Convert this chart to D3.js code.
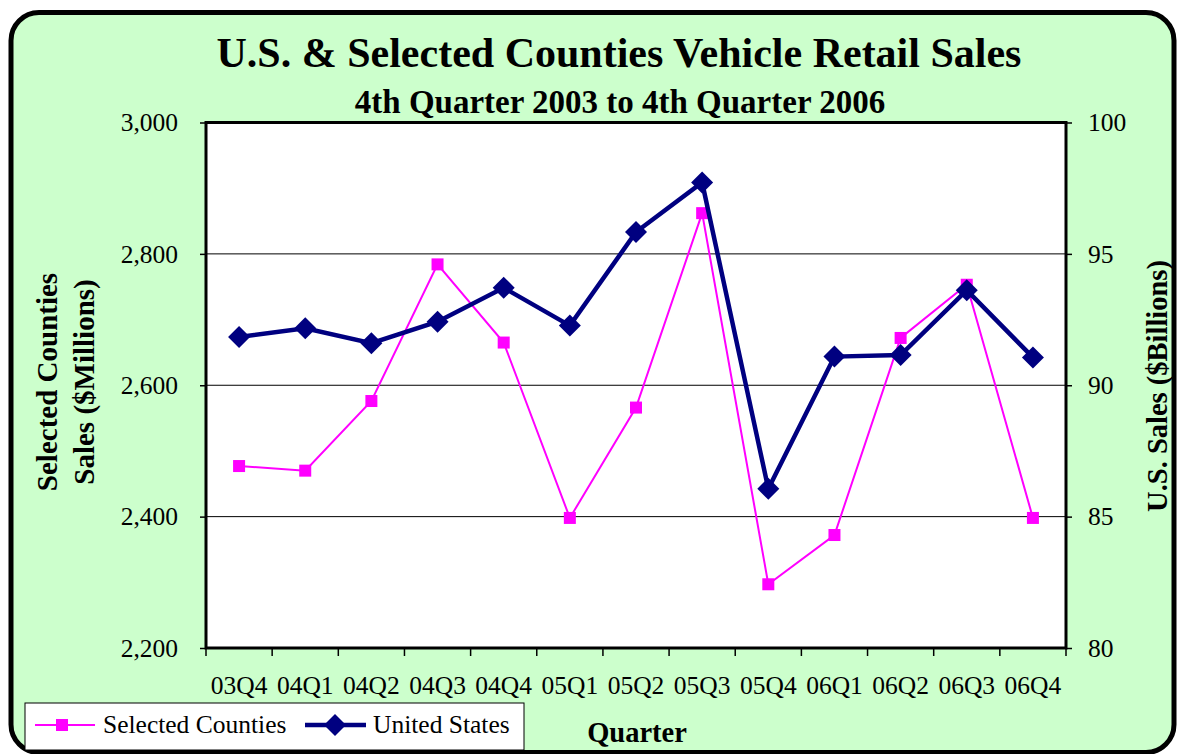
<!DOCTYPE html>
<html><head><meta charset="utf-8">
<script src="https://cdn.jsdelivr.net/npm/d3@7"></script>
<style>body{margin:0;background:#fff}svg{display:block}text{font-family:"Liberation Serif","Times New Roman",serif}</style>
</head><body>
<svg id="c" width="1177" height="754"></svg>
<script>
const categories = ["03Q4","04Q1","04Q2","04Q3","04Q4","05Q1","05Q2","05Q3","05Q4","06Q1","06Q2","06Q3","06Q4"];
const countiesSales = [2477,2470,2576,2784,2665,2398,2566,2862,2297,2372,2672,2753,2398];
const usSales = [91.84,92.17,91.6,92.42,93.71,92.27,95.83,97.72,86.06,91.09,91.15,93.62,91.06];
const leftTicks = [2200,2400,2600,2800,3000];
const rightTicks = [80,85,90,95,100];

const svg = d3.select("#c");
const m = {l:206, r:1066, t:122.5, b:648};
const FS = 25.5;

svg.append("rect").attr("x",11).attr("y",12.5).attr("width",1163).attr("height",740)
  .attr("rx",28).attr("fill","#CCFFCC").attr("stroke","#000").attr("stroke-width",5);

const x = d3.scaleBand().domain(categories).range([m.l,m.r]);
const yL = d3.scaleLinear().domain([2200,3000]).range([m.b,m.t]);
const yR = d3.scaleLinear().domain([80,100]).range([m.b,m.t]);

svg.append("rect").attr("x",m.l).attr("y",m.t).attr("width",m.r-m.l).attr("height",m.b-m.t).attr("fill","#fff");

svg.append("g").selectAll("line").data(leftTicks.slice(1,-1)).join("line")
  .attr("x1",m.l).attr("x2",m.r).attr("y1",d=>yL(d)).attr("y2",d=>yL(d))
  .attr("stroke","#000").attr("stroke-width",1);

const fmt = d3.format(",");
const gL = svg.append("g").attr("transform",`translate(${m.l},0)`)
  .call(d3.axisLeft(yL).tickValues(leftTicks).tickFormat(fmt).tickSize(6).tickPadding(22));
const gR = svg.append("g").attr("transform",`translate(${m.r},0)`)
  .call(d3.axisRight(yR).tickValues(rightTicks).tickSize(6).tickPadding(16));
[gL,gR].forEach(g=>{
  g.select(".domain").remove();
  g.selectAll("line").attr("stroke","#000").attr("stroke-width",1.5);
  g.selectAll("text").attr("font-size",FS).attr("fill","#000").style("font-family","'Liberation Serif',serif");
});

const gX = svg.append("g").attr("transform",`translate(0,${m.b})`)
  .call(d3.axisBottom(x).tickSize(0).tickPadding(28));
gX.select(".domain").remove();
gX.selectAll("text").attr("font-size",FS).attr("fill","#000").style("font-family","'Liberation Serif',serif");
const bounds = categories.map(c=>x(c)).concat([m.r]);
svg.append("g").selectAll("line").data(bounds).join("line")
  .attr("x1",d=>d).attr("x2",d=>d).attr("y1",m.b).attr("y2",m.b+8)
  .attr("stroke","#000").attr("stroke-width",1.5);

svg.append("rect").attr("x",m.l).attr("y",m.t).attr("width",m.r-m.l).attr("height",m.b-m.t)
  .attr("fill","none").attr("stroke","#000").attr("stroke-width",3);

const cx = c=>x(c)+x.bandwidth()/2;

svg.append("path").datum(countiesSales)
  .attr("d",d3.line().x((d,i)=>cx(categories[i])).y(d=>yL(d)))
  .attr("fill","none").attr("stroke","#FF00FF").attr("stroke-width",2);
svg.append("g").selectAll("rect").data(countiesSales).join("rect")
  .attr("x",(d,i)=>cx(categories[i])-6).attr("y",d=>yL(d)-6).attr("width",12).attr("height",12)
  .attr("fill","#FF00FF");

svg.append("path").datum(usSales)
  .attr("d",d3.line().x((d,i)=>cx(categories[i])).y(d=>yR(d)))
  .attr("fill","none").attr("stroke","#000080").attr("stroke-width",4.5);
const diamond = "M0,-11L11,0L0,11L-11,0Z";
svg.append("g").selectAll("path").data(usSales).join("path")
  .attr("transform",(d,i)=>`translate(${cx(categories[i])},${yR(d)})`)
  .attr("d",diamond).attr("fill","#000080");

svg.append("text").attr("x",619).attr("y",67).attr("text-anchor","middle")
  .attr("font-size",42).attr("font-weight","bold").text("U.S. & Selected Counties Vehicle Retail Sales");
svg.append("text").attr("x",620).attr("y",113).attr("text-anchor","middle")
  .attr("font-size",33).attr("font-weight","bold").text("4th Quarter 2003 to 4th Quarter 2006");

const lt = svg.append("text").attr("transform","translate(66,382) rotate(-90)").attr("text-anchor","middle")
  .attr("font-size",29).attr("font-weight","bold");
lt.append("tspan").attr("x",0).attr("dy",-9).text("Selected Counties");
lt.append("tspan").attr("x",0).attr("dy",37).text("Sales ($Millions)");

svg.append("text").attr("transform","translate(1167,386) rotate(-90)").attr("text-anchor","middle")
  .attr("font-size",28.5).attr("font-weight","bold").text("U.S. Sales ($Billions)");

svg.append("text").attr("x",637).attr("y",742).attr("text-anchor","middle")
  .attr("font-size",28.5).attr("font-weight","bold").text("Quarter");

const lg = svg.append("g");
lg.append("rect").attr("x",25).attr("y",703).attr("width",499).attr("height",47)
  .attr("fill","#fff").attr("stroke","#000").attr("stroke-width",1);
lg.append("line").attr("x1",35).attr("x2",95).attr("y1",725).attr("y2",725).attr("stroke","#FF00FF").attr("stroke-width",2);
lg.append("rect").attr("x",56).attr("y",719).attr("width",12).attr("height",12).attr("fill","#FF00FF");
lg.append("text").attr("x",103).attr("y",733).attr("font-size",FS).text("Selected Counties");
lg.append("line").attr("x1",305).attr("x2",366).attr("y1",725).attr("y2",725).attr("stroke","#000080").attr("stroke-width",4.5);
lg.append("path").attr("transform","translate(335,725)").attr("d",diamond).attr("fill","#000080");
lg.append("text").attr("x",373).attr("y",733).attr("font-size",FS).text("United States");
</script>
</body></html>
